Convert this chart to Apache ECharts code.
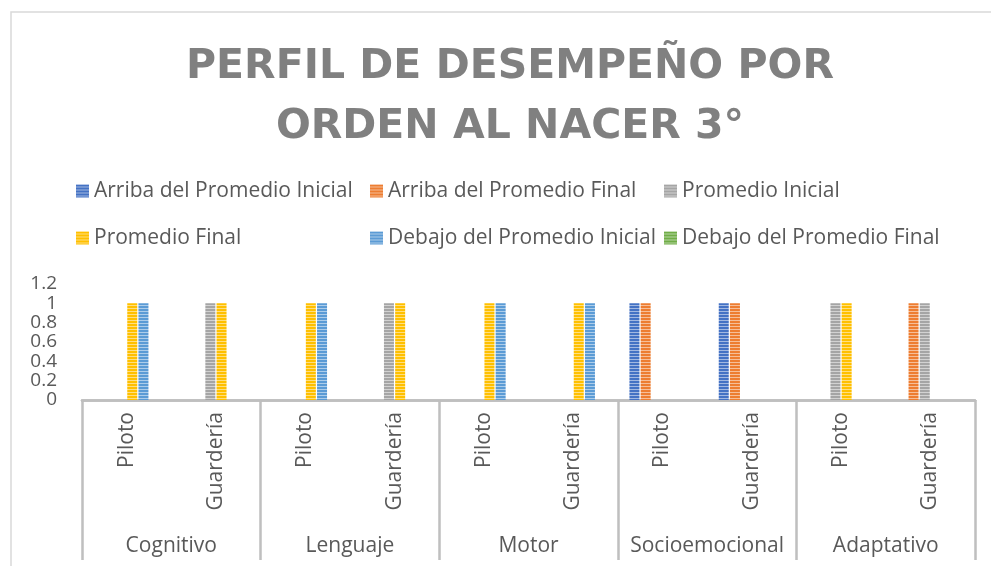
<!DOCTYPE html>
<html>
<head>
<meta charset="utf-8">
<script src="https://cdn.jsdelivr.net/npm/echarts@6/dist/echarts.min.js"></script>
<style>
  html, body { margin: 0; padding: 0; background: #fff; }
  #chart { width: 991px; height: 566px; }
</style>
</head>
<body>
<div id="chart"></div>
<script>
// datos
var subCats = ['Piloto', 'Guardería', 'Piloto', 'Guardería', 'Piloto', 'Guardería', 'Piloto', 'Guardería', 'Piloto', 'Guardería'];
var areas = ['Cognitivo', 'Lenguaje', 'Motor', 'Socioemocional', 'Adaptativo'];
var names = ['Arriba del Promedio Inicial', 'Arriba del Promedio Final', 'Promedio Inicial', 'Promedio Final', 'Debajo del Promedio Inicial', 'Debajo del Promedio Final'];
var arribaInicial = [0, 0, 0, 0, 0, 0, 1, 1, 0, 0];
var arribaFinal = [0, 0, 0, 0, 0, 0, 1, 1, 0, 1];
var promedioInicial = [0, 1, 0, 1, 0, 0, 0, 0, 1, 1];
var promedioFinal = [1, 1, 1, 1, 1, 1, 0, 0, 1, 0];
var debajoInicial = [1, 0, 1, 0, 1, 1, 0, 0, 0, 0];
var debajoFinal = [0, 0, 0, 0, 0, 0, 0, 0, 0, 0];
var colores = [['#4472C4', '#A2B8E1'], ['#ED7D31', '#F6BE98'], ['#A5A5A5', '#D2D2D2'], ['#FFC000', '#FFDF80'], ['#5B9BD5', '#ADCDEA'], ['#70AD47', '#B7D6A3']];

(function() {
    // rayas horizontales como en excel
    var rayas = function(c) {
        var cv = document.createElement('canvas');
        cv.width = 4;
        cv.height = 3;
        var ctx = cv.getContext('2d');
        ctx.fillStyle = c[0];
        ctx.fillRect(0, 0, 4, 2);
        ctx.fillStyle = c[1];
        ctx.fillRect(0, 2, 4, 1);
        return { image: cv, repeat: 'repeat' };
    };

    var valores = [arribaInicial, arribaFinal, promedioInicial, promedioFinal, debajoInicial, debajoFinal];
    var series = [];
    for (var i = 0; i < names.length; i++) {
        series.push({
            name: names[i],
            type: 'bar',
            data: valores[i],
            barWidth: 10,
            barGap: '12%',
            itemStyle: { color: rayas(colores[i]) }
        });
    }

    var legendBase = function(left, data) {
        return {
            orient: 'vertical',
            left: left,
            top: 180,
            padding: 0,
            itemWidth: 13,
            itemHeight: 13,
            itemGap: 25,
            icon: 'rect',
            data: data,
            textStyle: { color: '#595959', fontSize: 21, fontFamily: 'Open Sans', lineHeight: 22 }
        };
    };

    var myechart = echarts.init(document.getElementById('chart'));
    var option = {
        animation: false,
        title: {
            text: 'PERFIL DE DESEMPEÑO POR\nORDEN AL NACER 3°',
            left: 505,
            textAlign: 'center',
            top: 32,
            textStyle: {
                color: '#808080',
                fontSize: 41,
                fontWeight: 'bold',
                fontFamily: 'DejaVu Sans',
                lineHeight: 60
            }
        },
        legend: [
            legendBase(76, [names[0], names[3]]),
            legendBase(370, [names[1], names[4]]),
            legendBase(664, [names[2], names[5]])
        ],
        graphic: [{
            type: 'rect',
            shape: { x: 11, y: 12, width: 1000, height: 600 },
            style: { fill: 'none', stroke: '#D9D9D9', lineWidth: 1.5 },
            silent: true
        }],
        grid: { left: 82, right: 16, top: 284, bottom: 166 },
        xAxis: [{
            type: 'category',
            data: subCats,
            axisLine: { lineStyle: { color: '#BFBFBF', width: 2.5 } },
            axisTick: { show: false },
            axisLabel: { rotate: 90, margin: 12, interval: 0, color: '#595959', fontSize: 21, fontFamily: 'Open Sans' }
        }, {
            type: 'category',
            data: areas,
            position: 'bottom',
            axisLine: { lineStyle: { color: '#BFBFBF', width: 2.5 } },
            axisTick: { show: true, interval: 0, length: 160, lineStyle: { color: '#BFBFBF', width: 2.5 } },
            axisLabel: { margin: 136, interval: 0, color: '#595959', fontSize: 21, fontFamily: 'Open Sans' }
        }],
        yAxis: {
            type: 'value',
            min: 0,
            max: 1.2,
            interval: 0.2,
            splitLine: { show: false },
            axisLine: { show: false },
            axisTick: { show: false },
            axisLabel: {
                margin: 25, color: '#595959', fontSize: 19, fontFamily: 'Open Sans',
                showMinLabel: true, showMaxLabel: true
            }
        },
        series: series
    };
    myechart.setOption(option);
})();
</script>
</body>
</html>
